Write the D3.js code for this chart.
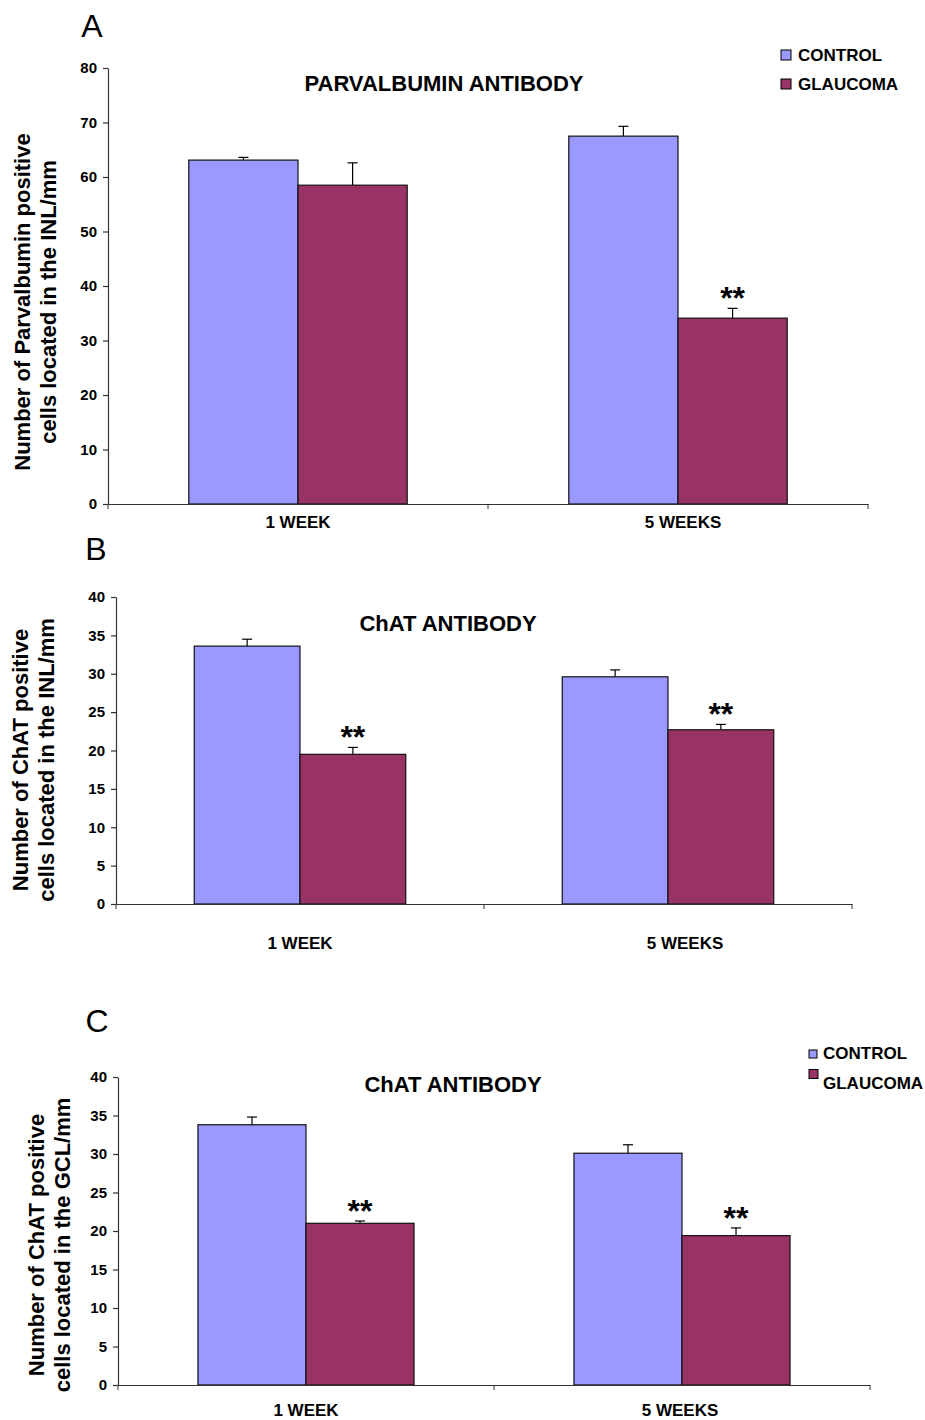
<!DOCTYPE html>
<html>
<head>
<meta charset="utf-8">
<script src="https://cdn.jsdelivr.net/npm/d3@7"></script>
<style>
  body { margin: 0; background: #fff; }
  svg { display: block; }
  .tick text, .xlab { font-family: "Liberation Sans Narrow", "Arial Narrow", "Liberation Sans", Arial, sans-serif; font-weight: bold; }
  .ttl, .leg, .ylab, .sig { font-family: "Liberation Sans", Arial, sans-serif; font-weight: bold; }
</style>
</head>
<body>
<svg id="chart" width="925" height="1420"></svg>
<script>
// data
const categories = ["1 WEEK", "5 WEEKS"];
const seriesNames = ["CONTROL", "GLAUCOMA"];
const seriesColors = ["#9999ff", "#993366"];

const parvControl = [63.1, 67.5];
const parvControlErr = [0.5, 1.8];
const parvGlaucoma = [58.5, 34.1];
const parvGlaucomaErr = [4.1, 1.8];
const parvSig = ["", "**"];
const parvTicks = [0, 10, 20, 30, 40, 50, 60, 70, 80];

const inlControl = [33.6, 29.6];
const inlControlErr = [0.9, 0.9];
const inlGlaucoma = [19.5, 22.7];
const inlGlaucomaErr = [0.9, 0.7];
const inlSig = ["**", "**"];
const chatTicks = [0, 5, 10, 15, 20, 25, 30, 35, 40];

const gclControl = [33.8, 30.1];
const gclControlErr = [1.0, 1.1];
const gclGlaucoma = [21.0, 19.4];
const gclGlaucomaErr = [0.3, 1.0];
const gclSig = ["**", "**"];

// legend entries: [squareX, squareCenterY, textX, textCenterY, squareSize]
const panels = [
  { letter: "A", title: "PARVALBUMIN ANTIBODY", ylab: ["Number of Parvalbumin positive", "cells located in the INL/mm"],
    vals: [parvControl, parvGlaucoma], errs: [parvControlErr, parvGlaucomaErr], sig: parvSig, ticks: parvTicks,
    x0: 108, x1: 868, yTop: 68, yBot: 504, letterPos: [92, 37], titlePos: [444, 91], ylabX: [30, 56], ylabY: 302,
    xlabY: 528, xlabShift: [0, 5], legend: [[781, 55, 798, 55, 10], [781, 84, 798, 84, 10]] },
  { letter: "B", title: "ChAT ANTIBODY", ylab: ["Number of ChAT positive", "cells located in the INL/mm"],
    vals: [inlControl, inlGlaucoma], errs: [inlControlErr, inlGlaucomaErr], sig: inlSig, ticks: chatTicks,
    x0: 116, x1: 852, yTop: 597, yBot: 904, letterPos: [96, 560], titlePos: [448, 631], ylabX: [28, 54], ylabY: 760,
    xlabY: 949, xlabShift: [0, 17], legend: null },
  { letter: "C", title: "ChAT ANTIBODY", ylab: ["Number of ChAT positive", "cells located in the GCL/mm"],
    vals: [gclControl, gclGlaucoma], errs: [gclControlErr, gclGlaucomaErr], sig: gclSig, ticks: chatTicks,
    x0: 118, x1: 870, yTop: 1077, yBot: 1385, letterPos: [97, 1032], titlePos: [453, 1092], ylabX: [44, 70], ylabY: 1245,
    xlabY: 1416, xlabShift: [0, -2], legend: [[809, 1054, 823, 1053, 8], [809, 1074, 823, 1083, 9]] }
];

const svg = d3.select("#chart");

panels.forEach(p => {
  const g = svg.append("g");
  const y = d3.scaleLinear().domain([p.ticks[0], p.ticks[p.ticks.length - 1]]).range([p.yBot, p.yTop]);
  const xCat = d3.scaleBand().domain(categories).range([p.x0, p.x1]).paddingInner(0).paddingOuter(0);
  const xSer = d3.scaleBand().domain(seriesNames).range([0, xCat.bandwidth()]).paddingInner(0).paddingOuter(0.74);

  // bars
  seriesNames.forEach((s, si) => {
    categories.forEach((c, ci) => {
      const v = p.vals[si][ci], e = p.errs[si][ci];
      const bx = xCat(c) + xSer(s);
      const cx = bx + xSer.bandwidth() / 2;
      // error bar (upper only)
      g.append("line").attr("x1", cx).attr("x2", cx).attr("y1", y(v)).attr("y2", y(v + e))
        .attr("stroke", "#000").attr("stroke-width", 1.2);
      g.append("line").attr("x1", cx - 5).attr("x2", cx + 5).attr("y1", y(v + e)).attr("y2", y(v + e))
        .attr("stroke", "#000").attr("stroke-width", 1.2);
      g.append("rect").attr("x", bx).attr("y", y(v)).attr("width", xSer.bandwidth()).attr("height", y(0) - y(v))
        .attr("fill", seriesColors[si]).attr("stroke", "#111").attr("stroke-width", 1.2);
      if (si === 1 && p.sig[ci]) {
        g.append("text").attr("class", "sig").attr("x", cx).attr("y", y(v + e) + 1).attr("text-anchor", "middle")
          .attr("font-size", 32).text(p.sig[ci]);
      }
    });
  });

  // y axis
  const yAxis = g.append("g").attr("transform", `translate(${p.x0},0)`)
    .call(d3.axisLeft(y).tickValues(p.ticks).tickSize(5).tickSizeOuter(0).tickPadding(6));
  yAxis.selectAll("text").attr("font-size", 15).attr("fill", "#000");
  yAxis.selectAll("line, path").attr("stroke", "#333").attr("stroke-width", 1.2);

  // x axis
  const xAxis = g.append("g").attr("transform", `translate(0,${p.yBot})`)
    .call(d3.axisBottom(xCat).tickSize(0).tickFormat(""));
  xAxis.select("path").attr("stroke", "#333").attr("stroke-width", 1.2);
  [p.x0, xCat(categories[1]), p.x1].forEach(tx => {
    xAxis.append("line").attr("x1", tx).attr("x2", tx).attr("y1", 0).attr("y2", 5).attr("stroke", "#333");
  });
  categories.forEach((c, ci) => {
    g.append("text").attr("class", "xlab").attr("x", xCat(c) + xCat.bandwidth() / 2 + p.xlabShift[ci]).attr("y", p.xlabY)
      .attr("text-anchor", "middle").attr("font-size", 17).text(c);
  });

  // title
  g.append("text").attr("class", "ttl").attr("x", p.titlePos[0]).attr("y", p.titlePos[1])
    .attr("text-anchor", "middle").attr("font-size", 22).text(p.title);

  // panel letter
  g.append("text").attr("x", p.letterPos[0]).attr("y", p.letterPos[1]).attr("text-anchor", "middle")
    .attr("font-family", "Liberation Sans, Arial, sans-serif").attr("font-size", 32).text(p.letter);

  // y label
  p.ylab.forEach((line, li) => {
    g.append("text").attr("class", "ylab")
      .attr("transform", `translate(${p.ylabX[li]},${p.ylabY}) rotate(-90)`)
      .attr("text-anchor", "middle").attr("font-size", 22).text(line);
  });

  // legend
  if (p.legend) {
    p.legend.forEach(([sx, sy, tx, ty, sz], si) => {
      g.append("rect").attr("x", sx).attr("y", sy - sz / 2).attr("width", sz).attr("height", sz)
        .attr("fill", seriesColors[si]).attr("stroke", "#000").attr("stroke-width", 1);
      g.append("text").attr("class", "leg").attr("x", tx).attr("y", ty + 6)
        .attr("font-size", 17).text(seriesNames[si]);
    });
  }
});
</script>
</body>
</html>
